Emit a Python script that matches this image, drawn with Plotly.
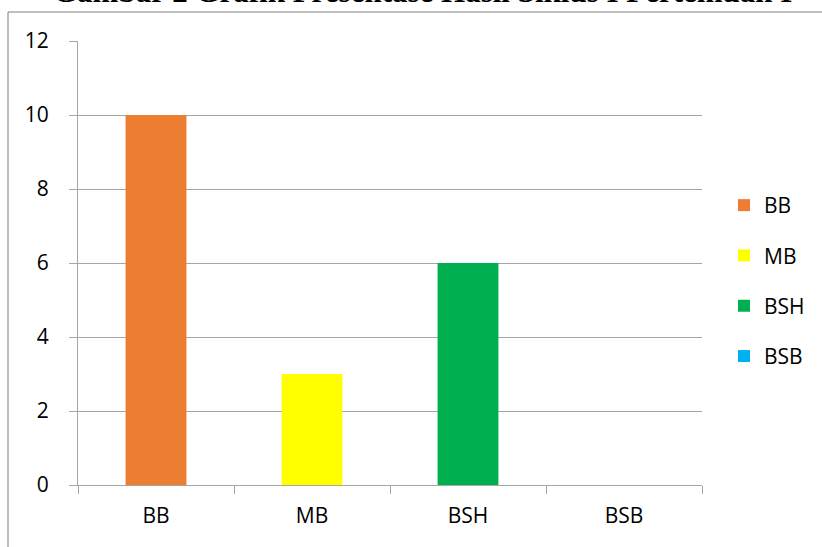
import plotly.graph_objects as go

categories = ["BB", "MB", "BSH", "BSB"]
values = [10, 3, 6, 0]
colors = ["#ED7D31", "#FFFF00", "#00B050", "#00B0F0"]
y_ticks = [0, 2, 4, 6, 8, 10, 12]
title_text = "Gambar 2 Grafik Presentase Hasil Siklus I Pertemuan I"

W, H = 822, 547
L, R, T, B = 78, 120, 41, 62
pw, ph = W - L - R, H - T - B

def px_x(p):
    return (p - L) / pw

def px_y(p):
    return (H - B - p) / ph

fig = go.Figure()
for cat, val, col in zip(categories, values, colors):
    fig.add_trace(go.Bar(
        x=[cat], y=[val], name=cat, marker=dict(color=col, line=dict(width=0)),
        width=0.39, legendgroup=cat,
    ))

grid = "#A6A6A6"
font_family = "Open Sans, Noto Sans, sans-serif"
fs = 21

fig.update_layout(
    width=W, height=H,
    margin=dict(l=L, r=R, t=T, b=B, pad=0),
    paper_bgcolor="white", plot_bgcolor="white",
    barmode="overlay",
    showlegend=True,
    legend=dict(
        x=px_x(724), y=px_y(281), xanchor="left", yanchor="middle",
        font=dict(family=font_family, size=fs, color="#000"),
        tracegroupgap=20, bgcolor="rgba(0,0,0,0)",
    ),
    font=dict(family=font_family, size=fs, color="#000"),
    xaxis=dict(
        type="category", categoryorder="array", categoryarray=categories,
        range=[-0.5, 3.5],
        showline=True, linecolor=grid, linewidth=1,
        ticks="outside", tickson="boundaries", ticklen=8, tickcolor=grid,
        showgrid=False, ticklabelstandoff=12,
        tickfont=dict(family=font_family, size=fs, color="#000"),
    ),
    yaxis=dict(
        range=[0, 12], tickvals=y_ticks,
        showline=True, linecolor=grid, linewidth=1,
        ticks="outside", ticklen=8, tickcolor=grid,
        showgrid=True, gridcolor=grid, gridwidth=1,
        zeroline=False, ticklabelstandoff=16,
        tickfont=dict(family=font_family, size=fs, color="#000"),
    ),
    shapes=[dict(
        type="rect", xref="paper", yref="paper",
        x0=px_x(8), x1=px_x(840), y0=px_y(570), y1=px_y(12),
        line=dict(color="#7F7F7F", width=1), fillcolor="rgba(0,0,0,0)", layer="below",
    )],
    annotations=[dict(
        text="<b>" + title_text + "</b>", xref="paper", yref="paper",
        x=px_x(422), y=px_y(-8.5), xanchor="center", yanchor="middle",
        showarrow=False,
        font=dict(family="Liberation Serif, serif", size=31, color="#000"),
    )],
)

fig.write_html("out.html")
